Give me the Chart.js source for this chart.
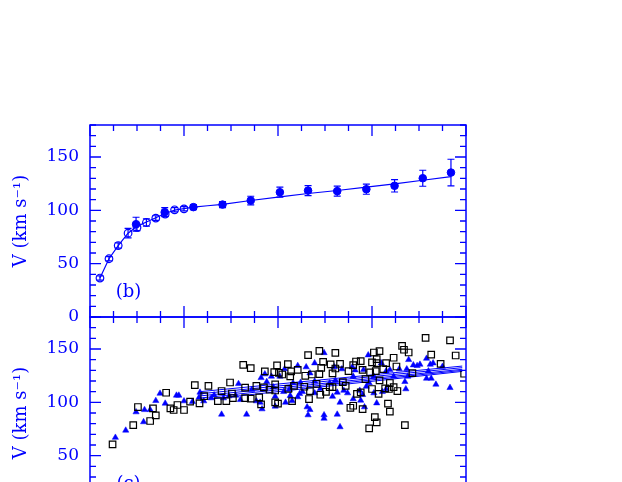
<!DOCTYPE html>
<html>
<head>
<meta charset="utf-8">
<script src="https://cdn.jsdelivr.net/npm/chart.js@4.4.1/dist/chart.umd.min.js"></script>
<style>
  html, body { margin: 0; padding: 0; background: #fff; overflow: hidden; width: 622px; height: 482px; }
  canvas { position: absolute; left: 0; }
  #panelB { top: 0; }
  #panelC { top: 300px; }
</style>
</head>
<body>
<canvas id="panelB" width="622" height="330"></canvas>
<canvas id="panelC" width="622" height="230"></canvas>
<script>
// rotation curve, panel (b)
const filledR = [0.49, 0.795, 1.10, 1.41, 1.71, 2.02, 2.32, 2.63, 2.94, 3.24, 3.54, 3.84];
const filledV = [87, 98.3, 103, 105.4, 109.2, 117, 118.5, 118, 119.8, 123, 130.1, 135.4];
const filledErr = [6.5, 4.2, 2.3, 2.8, 4, 4.7, 4.7, 4.7, 4.7, 5.8, 7.5, 12.5];

const openR = [0.106, 0.202, 0.30, 0.405, 0.50, 0.60, 0.70, 0.80, 0.90, 1.00];
const openV = [36.5, 54.6, 67, 78.6, 84, 88.6, 92.7, 96.5, 100.5, 101.4];
const openErr = [2, 2, 2.5, 4.5, 3, 3.4, 2.2, 2.2, 2, 2];

const modelR = [0.106, 0.202, 0.30, 0.405, 0.50, 0.60, 0.70, 0.80, 0.90, 1.00, 1.10, 1.25, 1.41, 1.71, 2.02, 2.32, 2.63, 2.94, 3.24, 3.54, 3.84];
const modelV = [36.5, 54.6, 67, 78.6, 85, 89, 93, 97, 100.2, 101.6, 103, 104.3, 105.6, 109.2, 112.6, 115.8, 118.6, 121.7, 124.8, 128.2, 131.6];

// individual measurements, panel (c)
const squareR = [0.24, 0.46, 0.51, 0.64, 0.67, 0.70, 0.81, 0.855, 0.89, 0.93, 1.00,
  1.065, 1.115, 1.165, 1.215, 1.26, 1.36, 1.40, 1.45, 1.49, 1.51, 1.52, 1.63, 1.65, 1.65, 1.71, 1.71, 1.77, 1.80, 1.82, 1.85, 1.86, 1.91,
  1.96, 1.97, 1.97, 1.97, 1.99, 2.00, 2.01, 2.045, 2.105, 2.11, 2.13, 2.14, 2.15, 2.17, 2.21, 2.28, 2.29, 2.32, 2.33, 2.34, 2.36, 2.41,
  2.44, 2.44, 2.45, 2.46, 2.48, 2.51, 2.55, 2.56, 2.58, 2.58, 2.61, 2.61, 2.66, 2.69, 2.72, 2.75, 2.77, 2.80, 2.80, 2.83, 2.84, 2.88, 2.88, 2.90,
  2.90, 2.93, 2.97, 2.98, 3.00, 3.00, 3.02, 3.03, 3.04, 3.05, 3.05, 3.05, 3.07, 3.08, 3.08, 3.12, 3.14, 3.15, 3.17, 3.18, 3.19, 3.19,
  3.23, 3.23, 3.26, 3.27, 3.32, 3.34, 3.35, 3.39, 3.43, 3.57, 3.63, 3.73, 3.83, 3.89, 3.98];
const squareV = [60.5, 78.7, 95.6, 82.5, 94.3, 87.7, 109, 94.3, 92.8, 97.5, 92.8,
  100.6, 116.2, 99, 105.9, 115.5, 101.2, 110.6, 101.2, 118.6, 108.3, 104, 135.2, 113.7, 104, 132.1, 103.4, 115.5, 104.6, 98, 114, 129, 111.8,
  128.4, 116.8, 111.1, 99.9, 134.6, 98.7, 127.7, 126.1, 135.9, 112.7, 124.3, 129, 101.2, 115.5, 130.5, 114.6, 124.9, 144.3, 103.1, 110.6, 126.1, 117.4,
  148.3, 126.5, 107.1, 132.4, 138, 109.9, 114.3, 135.5, 127.1, 114.3, 146.4, 131.7, 136, 119, 115.5, 129.3, 94.9, 134.9, 96.8, 138.3, 108, 138.7, 109.3, 93.7,
  130.5, 121.8, 75.6, 128, 137.4, 112.5, 146.7, 86.2, 129.3, 140.5, 136.8, 81.2, 108, 148, 120.5, 131.2, 113, 136.8, 98.7, 112.5, 118.1, 91.2,
  141.8, 114.3, 133.6, 110.6, 153, 149.3, 78.7, 146.7, 127.4, 160.5, 144.8, 136.1, 158, 143.9, 126.8];

const triR = [0.27, 0.38, 0.49, 0.57, 0.58, 0.64, 0.70, 0.745, 0.80, 0.92, 0.945, 1.00,
  1.09, 1.16, 1.17, 1.21, 1.29, 1.32, 1.40, 1.42, 1.48, 1.55, 1.58, 1.60, 1.666, 1.72, 1.77, 1.81, 1.82, 1.83, 1.86, 1.88,
  1.93, 1.95, 1.97, 1.97, 2.02, 2.06, 2.07, 2.08, 2.12, 2.13, 2.15, 2.16, 2.21, 2.21, 2.23, 2.24, 2.26, 2.30, 2.31, 2.32, 2.34, 2.34,
  2.39, 2.39, 2.39, 2.45, 2.49, 2.49, 2.49, 2.55, 2.58, 2.60, 2.61, 2.63, 2.63, 2.66, 2.66, 2.68, 2.70, 2.74, 2.79, 2.80, 2.80, 2.82,
  2.87, 2.88, 2.90, 2.91, 2.92,
  2.94, 2.96, 2.97, 3.02, 3.02, 3.05, 3.10, 3.11, 3.15, 3.15, 3.19, 3.23, 3.29, 3.35, 3.36, 3.37, 3.38, 3.39, 3.44, 3.48, 3.51,
  3.58, 3.58, 3.60, 3.62, 3.63, 3.65, 3.68, 3.75, 3.83];
const triV = [67, 73.7, 90.9, 81.6, 93, 93, 101.5, 108.3, 99, 106.5, 106.5, 101.2,
  100.6, 104.6, 109.3, 101.2, 104, 106.8, 88.7, 104, 105.9, 106.5, 117.4, 102.4, 88.7, 111.8, 101.2, 99.9, 123, 93.7, 126.5, 119.3,
  124.3, 114.3, 105.5, 96.2, 124.3, 109.9, 131.2, 99.9, 111.8, 106.2, 101.5, 118.1, 134.3, 105, 108, 118.6, 109.9, 133.1, 95.6, 88.1, 127.4, 93.1,
  136.8, 119.6, 108.7, 112.7, 146.4, 88.1, 84.9, 118.1, 105.5, 133.1, 120.5, 109.3, 88.7, 99.9, 76.9, 131.2, 111.1, 108.7, 133.1, 124.3, 103.1, 130.2,
  111.1, 101.8, 107.1, 130.5, 95.6,
  114.9, 144.3, 118.1, 124.3, 108.7, 99.3, 136.8, 109.9, 129.3, 112.5, 130.5, 124.3, 131.2, 119.3, 112.5, 131.2, 124.3, 139.9, 134.9, 134.3, 135.5,
  141.1, 122.4, 129.3, 135.5, 122.4, 136.8, 116.8, 133.6, 113.7];

// fitted lines in panel (c): start and end of each
const fitR = [1.17, 3.96];
const fitStartV = [110, 108, 106, 104, 102];
const fitEndV = [134, 132.5, 131, 130, 129];

const yTickLabels = [0, 50, 100, 150];
const panelLabels = ['(b)', '(c)'];
const labelAt = [0.41, 23];

const BLUE = '#0000ff';
const FONT = 'DejaVu Serif';

function pts(xs, ys) {
  return xs.map((x, i) => ({ x: x, y: ys[i] }));
}

const panelPlugin = {
  id: 'panel',
  afterDatasetsDraw(chart) {
    const ctx = chart.ctx;
    const a = chart.chartArea;
    const xs = chart.scales.x, ys = chart.scales.y;
    ctx.save();
    ctx.strokeStyle = BLUE;

    // error bars
    ctx.lineWidth = 1.2;
    chart.data.datasets.forEach(ds => {
      if (!ds.errors) return;
      ds.data.forEach((p, i) => {
        const x = xs.getPixelForValue(p.x);
        const y1 = ys.getPixelForValue(p.y - ds.errors[i]);
        const y2 = ys.getPixelForValue(p.y + ds.errors[i]);
        ctx.beginPath();
        ctx.moveTo(x, y1); ctx.lineTo(x, y2);
        ctx.moveTo(x - 3.5, y1); ctx.lineTo(x + 3.5, y1);
        ctx.moveTo(x - 3.5, y2); ctx.lineTo(x + 3.5, y2);
        ctx.stroke();
      });
    });

    // box
    ctx.lineWidth = 1.5;
    ctx.strokeRect(a.left, a.top, a.right - a.left, a.bottom - a.top);

    // inward ticks on all sides
    ctx.lineWidth = 1.3;
    ctx.beginPath();
    xs.ticks.forEach(t => {
      const x = xs.getPixelForValue(t.value);
      const len = Number.isInteger(t.value) ? 11 : 6;
      ctx.moveTo(x, a.bottom); ctx.lineTo(x, a.bottom - len);
      ctx.moveTo(x, a.top); ctx.lineTo(x, a.top + len);
    });
    ys.ticks.forEach(t => {
      const y = ys.getPixelForValue(t.value);
      const len = t.value % 50 === 0 ? 11 : 6;
      ctx.moveTo(a.left, y); ctx.lineTo(a.left + len, y);
      ctx.moveTo(a.right, y); ctx.lineTo(a.right - len, y);
    });
    ctx.stroke();

    // panel tag
    ctx.fillStyle = BLUE;
    ctx.font = '18px "' + FONT + '"';
    ctx.textAlign = 'center';
    ctx.textBaseline = 'middle';
    ctx.fillText(chart.options.plugins.panel.label, xs.getPixelForValue(labelAt[0]), ys.getPixelForValue(labelAt[1]));
    ctx.restore();
  }
};

function makePanel(id, datasets, label, padTop, padBottom) {
  return new Chart(document.getElementById(id), {
    type: 'scatter',
    data: { datasets: datasets },
    options: {
      responsive: false,
      animation: false,
      events: [],
      layout: { padding: { top: padTop, bottom: padBottom, left: 0, right: 156 } },
      plugins: {
        legend: { display: false },
        tooltip: { enabled: false },
        panel: { label: label }
      },
      scales: {
        x: {
          type: 'linear',
          min: 0, max: 4,
          grid: { display: false },
          border: { display: false },
          ticks: { stepSize: 0.25, display: false, autoSkip: false },
          afterFit: s => { s.height = 0; s.paddingLeft = 0; s.paddingRight = 0; }
        },
        y: {
          min: 0, max: 180,
          grid: { display: false, drawTicks: false },
          border: { display: false },
          ticks: {
            stepSize: 10,
            autoSkip: false,
            padding: 11,
            color: BLUE,
            font: { family: FONT, size: 17 },
            callback: v => yTickLabels.includes(v) ? String(v) : ''
          },
          title: {
            display: true,
            text: 'V (km s\u207B\u00B9)',
            color: BLUE,
            font: { family: FONT, size: 18 },
            padding: { top: 11, bottom: 0 }
          },
          afterFit: s => { s.width = 90; s.paddingTop = 0; s.paddingBottom = 0; }
        }
      }
    },
    plugins: [panelPlugin]
  });
}

// panel (b)
makePanel('panelB', [
  {
    data: pts(filledR, filledV),
    errors: filledErr,
    pointStyle: 'circle',
    pointRadius: 3.8,
    backgroundColor: BLUE,
    borderColor: BLUE,
    borderWidth: 1
  },
  {
    data: pts(openR, openV),
    errors: openErr,
    pointStyle: 'circle',
    pointRadius: 3.8,
    backgroundColor: 'rgba(0,0,0,0)',
    borderColor: BLUE,
    borderWidth: 1.2
  },
  {
    data: pts(modelR, modelV),
    showLine: true,
    pointRadius: 0,
    borderColor: BLUE,
    borderWidth: 1.2
  }
], panelLabels[0], 125, 13);

// panel (c)
const cSets = [
  {
    data: pts(squareR, squareV),
    pointStyle: 'rect',
    pointRadius: 4.6,
    backgroundColor: 'rgba(0,0,0,0)',
    borderColor: '#000',
    borderWidth: 1.2
  },
  {
    data: pts(triR, triV),
    pointStyle: 'triangle',
    pointRadius: 3.6,
    backgroundColor: BLUE,
    borderColor: BLUE,
    borderWidth: 0.5
  }
];
fitStartV.forEach((v0, i) => {
  cSets.push({
    data: pts(fitR, [v0, fitEndV[i]]),
    showLine: true,
    pointRadius: 0,
    borderColor: BLUE,
    borderWidth: 1
  });
});
makePanel('panelC', cSets, panelLabels[1], 17, 21);
</script>
</body>
</html>
